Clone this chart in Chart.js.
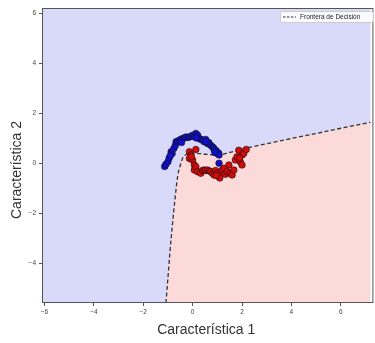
<!DOCTYPE html>
<html>
<head>
<meta charset="utf-8">
<script src="https://cdn.jsdelivr.net/npm/chart.js@4.4.0/dist/chart.umd.min.js"></script>
<style>
  html, body { margin: 0; padding: 0; background: #fff; }
  #wrap { width: 375px; height: 343px; }
</style>
</head>
<body>
<div id="wrap"><canvas id="c"></canvas></div>
<script>
// Two interleaving half-moon classes
const moonBlueX = [-1.13,-1.08,-1.0,-0.95,-0.87,-0.83,-0.76,-0.7,-0.67,-0.6,-0.53,-0.47,-0.4,-0.33,-0.27,-0.2,-0.13,-0.05,0,0.07,0.13,0.2,0.27,0.33,0.4,0.47,0.53,0.6,0.65,0.73,0.8,0.85,0.87,0.93,0.95,1.0,1.05,1.07,1.07,0.9,-0.45,0.15,0.55,-0.9];
const moonBlueY = [-0.14,-0.05,0.05,0.2,0.45,0.38,0.58,0.7,0.85,0.88,0.91,0.95,0.98,1.0,1.04,1.02,1.04,1.08,1.1,1.05,1.18,1.12,0.98,0.95,0.91,0.85,0.94,0.78,0.82,0.71,0.65,0.6,0.54,0.45,0.5,0.38,0.4,0.32,-0.01,0.42,0.82,1.0,0.86,0.3];
const moonRedX = [-0.13,-0.07,0.13,-0.13,0,-0.05,0.07,0.07,0.13,0.2,0.33,0.4,0.47,0.53,0.6,0.67,0.73,0.8,0.87,0.93,1.0,1.07,1.13,1.2,1.27,1.33,1.4,1.47,1.53,1.6,1.67,1.73,1.8,1.87,1.93,2.0,2.0,2.07,2.17,1.9,1.1,0.95];
const moonRedY = [0.45,0.32,0.54,0.18,0.12,0.25,-0.08,-0.28,-0.15,-0.35,-0.41,-0.3,-0.28,-0.3,-0.28,-0.32,-0.34,-0.41,-0.48,-0.3,-0.41,-0.54,-0.41,-0.28,-0.21,-0.45,-0.34,-0.08,-0.41,-0.48,-0.28,0.12,0.25,0.51,0.05,0.32,-0.08,0.38,0.54,0.2,-0.6,-0.5];

// Decision boundary of the classifier
const boundaryX = [-1.08,-1.0,-0.92,-0.82,-0.72,-0.6,-0.5,-0.4,-0.25,0,0.5,1.0,1.5,2.2,3,4,5,6,7.2];
const boundaryY = [-5.6,-4.6,-3.6,-2.5,-1.5,-0.5,-0.1,0.2,0.35,0.4,0.35,0.32,0.42,0.6,0.77,0.98,1.18,1.39,1.63];

const xTicks = [-6,-4,-2,0,2,4,6];
const yTicks = [-4,-2,0,2,4,6];
const xRange = [-6.1, 7.2];
const yRange = [-5.6, 6.2];

const toPts = (xs, ys) => xs.map((x, i) => ({ x: x, y: ys[i] }));
const fmt = v => (v < 0 ? '\u2212' + Math.abs(v) : String(v));
const FONT = '"Liberation Sans", Arial, sans-serif';

const areaPlugin = {
  id: 'area',
  beforeDatasetsDraw(chart) {
    const { ctx, chartArea: a } = chart;
    ctx.save();
    ctx.fillStyle = 'rgb(217,217,250)';
    ctx.fillRect(a.left, a.top, a.right - a.left, a.bottom - a.top);
    ctx.restore();
  },
  afterDraw(chart) {
    const { ctx, chartArea: a } = chart;
    ctx.save();
    ctx.strokeStyle = '#555';
    ctx.lineWidth = 1;
    ctx.strokeRect(a.left + 0.5, a.top + 0.5, a.right - a.left + 2, a.bottom - a.top - 1);
    // vertical axis title
    ctx.save();
    ctx.translate(17, 170);
    ctx.rotate(-Math.PI / 2);
    ctx.fillStyle = '#333';
    ctx.font = '14px ' + FONT;
    ctx.textAlign = 'center';
    ctx.textBaseline = 'middle';
    ctx.fillText('Caracter\u00edstica 2', 0, 0);
    ctx.restore();
    // legend box
    const bx = 280, by = 11, bw = 93, bh = 11;
    ctx.fillStyle = 'rgba(255,255,255,0.85)';
    ctx.strokeStyle = '#ccc';
    ctx.beginPath();
    ctx.roundRect(bx + 0.5, by + 0.5, bw, bh, 2);
    ctx.fill();
    ctx.stroke();
    ctx.strokeStyle = '#333';
    ctx.lineWidth = 1.2;
    ctx.setLineDash([2.5, 1.5]);
    ctx.beginPath();
    ctx.moveTo(bx + 3, by + 6);
    ctx.lineTo(bx + 16, by + 6);
    ctx.stroke();
    ctx.setLineDash([]);
    ctx.fillStyle = '#222';
    ctx.font = '6.5px ' + FONT;
    ctx.textBaseline = 'middle';
    ctx.fillText('Frontera de Decisi\u00f3n', bx + 20, by + 6);
    ctx.restore();
  }
};

new Chart(document.getElementById('c'), {
  type: 'scatter',
  data: {
    datasets: [
      {
        type: 'line',
        data: toPts(boundaryX, boundaryY),
        borderColor: '#333',
        borderWidth: 1.3,
        borderDash: [4, 2.5],
        pointRadius: 0,
        cubicInterpolationMode: 'monotone',
        fill: 'start',
        backgroundColor: 'rgb(252,218,218)',
        order: 2
      },
      {
        data: toPts(moonBlueX, moonBlueY),
        backgroundColor: 'rgb(15,15,205)',
        borderColor: '#111',
        borderWidth: 0.6,
        pointRadius: 3.3,
        order: 1
      },
      {
        data: toPts(moonRedX, moonRedY),
        backgroundColor: 'rgb(215,10,10)',
        borderColor: '#111',
        borderWidth: 0.6,
        pointRadius: 3.3,
        order: 1
      }
    ]
  },
  options: {
    responsive: true,
    maintainAspectRatio: false,
    animation: false,
    layout: { padding: { top: 8, left: 0, right: -6, bottom: 0 } },
    plugins: { legend: { display: false }, tooltip: { enabled: false } },
    scales: {
      x: {
        type: 'linear',
        min: xRange[0],
        max: xRange[1],
        afterBuildTicks: s => { s.ticks = xTicks.map(v => ({ value: v })); },
        afterFit: s => { s.height = 40; },
        grid: { drawOnChartArea: false, tickLength: 3, color: '#555' },
        border: { display: false },
        ticks: {
          callback: v => fmt(v),
          font: { size: 6.5, family: FONT },
          color: '#444',
          padding: 2,
          maxRotation: 0,
          autoSkip: false
        },
        title: {
          display: true,
          text: 'Caracter\u00edstica 1',
          font: { size: 14, family: FONT },
          color: '#333',
          padding: { top: 0, bottom: 4 }
        }
      },
      y: {
        type: 'linear',
        min: yRange[0],
        max: yRange[1],
        afterBuildTicks: s => { s.ticks = yTicks.map(v => ({ value: v })); },
        afterFit: s => { s.width = 42; },
        grid: { drawOnChartArea: false, tickLength: 3, color: '#555' },
        border: { display: false },
        ticks: {
          callback: v => fmt(v),
          font: { size: 6.5, family: FONT },
          color: '#444',
          padding: 3,
          autoSkip: false
        }
      }
    }
  },
  plugins: [areaPlugin]
});
</script>
</body>
</html>
